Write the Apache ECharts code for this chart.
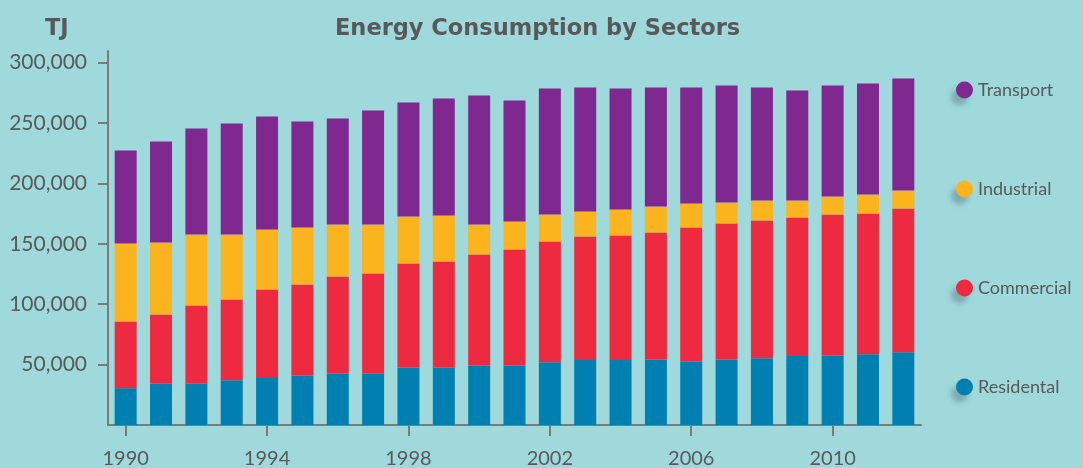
<!DOCTYPE html>
<html>
<head>
<meta charset="utf-8">
<script src="https://cdn.jsdelivr.net/npm/echarts@6/dist/echarts.min.js"></script>
<style>
html,body{margin:0;padding:0;background:#9fd9dc;}
#chart{width:1083px;height:468px;}
</style>
</head>
<body>
<div id="chart"></div>
<script>
const years = ['1990','1991','1992','1993','1994','1995','1996','1997','1998','1999','2000','2001','2002','2003','2004','2005','2006','2007','2008','2009','2010','2011','2012'];
const residental = [30500,34400,34400,37100,38800,41000,42600,42600,47600,47600,49300,49300,52000,53700,53700,54200,52600,54200,55300,57000,57500,58600,60300];
const commercial = [55200,57100,64500,66800,73400,75300,80300,82800,86100,87700,91800,96000,99900,102300,103200,105100,110900,112600,114000,114700,116700,116400,118900];
const industrial = [64500,59500,58800,53800,49600,47200,43000,40500,38900,38100,24800,23100,22300,20700,21400,21500,19800,17300,16500,14100,14900,15700,14900];
const transport = [77000,83600,87700,91800,93500,87700,87800,94400,94300,96800,106800,100200,104300,102600,100200,98500,96000,96900,93500,91000,91900,91900,92700];
const yTicks = [50000,100000,150000,200000,250000,300000];

const FONT = 'Lato';
const TITLE_FONT = 'DejaVu Sans';
const TXT = '#58595b';
const AX = '#7a7a7a';
const colors = {Transport:'#7f288f', Industrial:'#fbb31e', Commercial:'#ee2a41', Residental:'#0080b0'};

const chart = echarts.init(document.getElementById('chart'));
function mk(name, data){
  return {name:name, type:'bar', stack:'total', data:data, barWidth:22,
    itemStyle:{color:colors[name]}};
}
chart.setOption({
  backgroundColor:'#9fd9dc',
  textStyle:{fontFamily:FONT},
  title:[
    {text:'Energy Consumption by Sectors', left:330, top:13,
     textStyle:{fontFamily:TITLE_FONT, fontWeight:'bold', fontSize:22.5, color:TXT}},
    {text:'TJ', left:40, top:13,
     textStyle:{fontFamily:TITLE_FONT, fontWeight:'bold', fontSize:22.5, color:TXT}}
  ],
  legend:{
    orient:'vertical', left:951, top:76, itemWidth:17, itemHeight:17, itemGap:81,
    icon:'circle',
    data:['Transport','Industrial','Commercial','Residental'],
    textStyle:{fontFamily:FONT, fontSize:18, color:TXT},
    itemStyle:{shadowBlur:5, shadowColor:'rgba(70,90,100,0.35)', shadowOffsetX:-5, shadowOffsetY:7}
  },
  grid:{left:108, right:162, top:51, bottom:43, outerBoundsMode:'none', containLabel:false},
  xAxis:{
    type:'category', data:years,
    axisLine:{lineStyle:{color:AX, width:2}},
    axisTick:{show:true, interval:3, alignWithLabel:true, length:11, lineStyle:{color:AX, width:2}},
    axisLabel:{interval:3, margin:24, fontSize:20, color:TXT, fontFamily:FONT}
  },
  yAxis:{
    type:'value', min:0, max:309500,
    splitLine:{show:false},
    axisLine:{show:true, lineStyle:{color:AX, width:2}},
    axisTick:{show:true, customValues:yTicks, length:10, lineStyle:{color:AX, width:2}},
    axisLabel:{customValues:yTicks, margin:21, fontSize:21, color:TXT, fontFamily:FONT,
      formatter:function(v){return v.toLocaleString('en-US');}}
  },
  series:[mk('Residental',residental), mk('Commercial',commercial), mk('Industrial',industrial), mk('Transport',transport)]
});
</script>
</body>
</html>
